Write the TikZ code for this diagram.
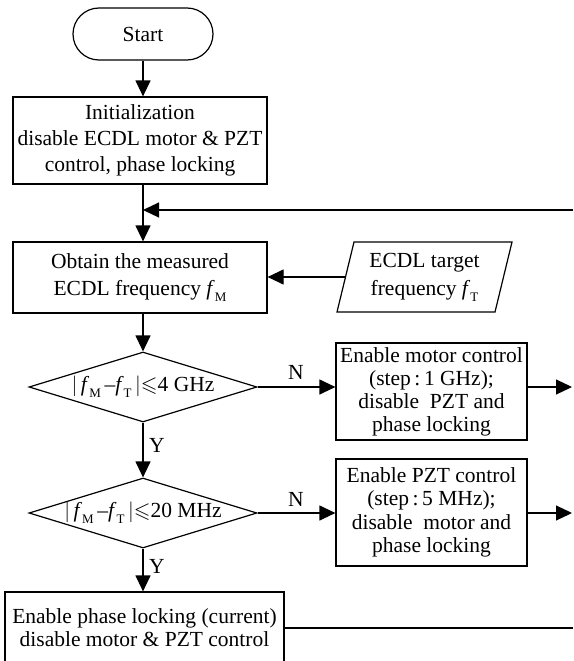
\documentclass[tikz,border=0pt]{standalone}
\usepackage{fontspec}
\setmainfont{Liberation Serif}
\usepackage{amssymb}
\usetikzlibrary{arrows.meta,shapes.geometric}
\newcommand{\fsub}[1]{\textit{f}\raisebox{-0.28em}{\fontsize{13}{13}\selectfont #1}}
\begin{document}
\begin{tikzpicture}[x=1pt,y=-1pt,
  every node/.style={font=\fontsize{21.5}{25}\selectfont},
  ln/.style={line width=1.2pt},
  box/.style={draw, ln, inner sep=0pt, align=center},
  decision/.style={diamond, draw, ln, inner sep=0pt, aspect=3.26, minimum width=228pt, minimum height=70pt},
  arr/.style={ln, -{Triangle[length=16pt,width=15pt]}},
  lbl/.style={inner sep=0pt}]
\useasboundingbox (0,0) rectangle (573,661);
\clip (0,0) rectangle (573,661);

% nodes
\node[box, rounded corners=26pt, minimum width=140pt, minimum height=52pt] (start) at (143,34) {Start};
\node[box, minimum width=254pt, minimum height=87pt, font=\fontsize{21.5}{26}\selectfont] (init) at (140,140.5)
  {Initialization\\disable ECDL motor \& PZT\\control, phase locking};
\coordinate (join) at (143,210);
\coordinate (fb) at (573,210);
\node[box, minimum width=254pt, minimum height=71pt, font=\fontsize{21.5}{27}\selectfont] (obtain) at (140,277.5)
  {Obtain the measured\\ECDL frequency \fsub{M}};

\node[align=center, inner sep=0pt, font=\fontsize{21.5}{28}\selectfont] (target) at (424.5,277) {ECDL target\\frequency \fsub{T}};
\coordinate (tNW) at (354,242);
\coordinate (tNE) at (512,242);
\coordinate (tSE) at (495,312);
\coordinate (tSW) at (337,312);
\coordinate (tW) at (345.5,277);
\draw[ln] (tNW) -- (tNE) -- (tSE) -- (tSW) -- cycle;

\node[decision] (d1) at (143,387) {$|$\,\fsub{M}\,--\fsub{T}\,$|$$\leqslant$4 GHz};
\node[box, minimum width=191pt, minimum height=97pt, font=\fontsize{21.5}{23}\selectfont] (motor) at (431.5,391.5)
  {Enable motor control\\(step\,:\,1 GHz);\\disable\ \ PZT and\\phase locking};
\coordinate (r1) at (572,387);

\node[decision] (d2) at (143,513) {$|$\,\fsub{M}\,--\fsub{T}\,$|$$\leqslant$20 MHz};
\node[box, minimum width=191pt, minimum height=107pt, font=\fontsize{21.5}{23.5}\selectfont] (pzt) at (431.5,512.5)
  {Enable PZT control\\(step\,:\,5 MHz);\\disable\ \ motor and\\phase locking};
\coordinate (r2) at (572,513);

\node[box, minimum width=279pt, minimum height=72pt, font=\fontsize{21.5}{23}\selectfont] (final) at (144.5,628)
  {Enable phase locking (current)\\disable motor \& PZT control};
\coordinate (r3) at (573,628);

% labels
\node[lbl] (n1) at (296,372) {N};
\node[lbl] (n2) at (296,499) {N};
\node[lbl] (y1) at (157,445) {Y};
\node[lbl] (y2) at (157,566) {Y};

% connectors
\draw[arr] (start.south) -- (start.south |- init.north);
\draw[ln] (init.south -| join) -- (join);
\draw[arr] (fb) -- (join);
\draw[arr] (join) -- (join |- obtain.north);
\draw[arr] (tW) -- (tW -| obtain.east);
\draw[arr] (obtain.south -| join) -- (d1.north);
\draw[arr] (d1.east) -- (d1.east -| motor.west);
\draw[arr] (d1.east -| motor.east) -- (r1);
\draw[arr] (d1.south) -- (d2.north);
\draw[arr] (d2.east) -- (d2.east -| pzt.west);
\draw[arr] (d2.east -| pzt.east) -- (r2);
\draw[arr] (d2.south) -- (d2.south |- final.north);
\draw[ln] (final.east) -- (r3);
\end{tikzpicture}
\end{document}
